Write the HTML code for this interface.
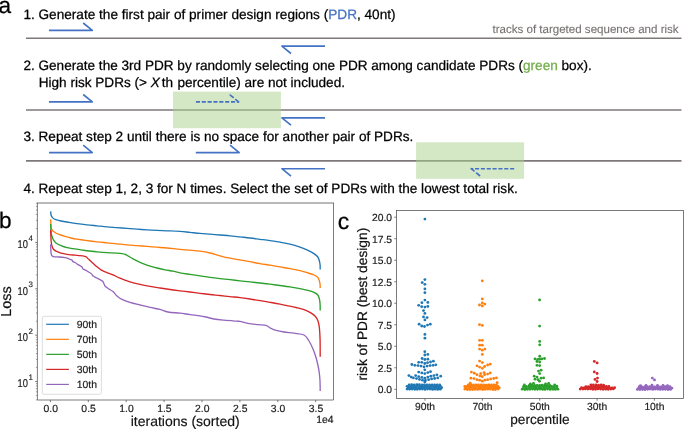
<!DOCTYPE html>
<html><head><meta charset="utf-8"><title>figure</title>
<style>
html,body{margin:0;padding:0;background:#fff;}
body{width:685px;height:429px;overflow:hidden;font-family:"Liberation Sans",sans-serif;}
svg{display:block;font-family:"Liberation Sans",sans-serif;will-change:transform;text-rendering:geometricPrecision;}
text{white-space:pre;stroke-linejoin:round;}
</style></head>
<body>
<svg width="685" height="429" viewBox="0 0 685 429">
<line x1="26" y1="38.25" x2="681.5" y2="38.25" stroke="#7e7878" stroke-width="1.6"/>
<line x1="26" y1="109.95" x2="681.5" y2="109.95" stroke="#7e7878" stroke-width="1.6"/>
<line x1="26" y1="160.85" x2="681.5" y2="160.85" stroke="#7e7878" stroke-width="1.6"/>
<rect x="173" y="91.6" width="107.9" height="36.6" fill="rgba(169,209,142,0.5)"/>
<rect x="416.1" y="142.3" width="108" height="36.5" fill="rgba(169,209,142,0.5)"/>
<path d="M49 30.4 L92.3 30.4 L83.20 23.00" fill="none" stroke="#4472C4" stroke-width="1.65" stroke-linejoin="round"/>
<path d="M325 46.1 L281.9 46.1 L291.00 53.50" fill="none" stroke="#4472C4" stroke-width="1.65" stroke-linejoin="round"/>
<path d="M49 101.9 L92.3 101.9 L83.20 94.50" fill="none" stroke="#4472C4" stroke-width="1.65" stroke-linejoin="round"/>
<path d="M195.9 101.9 L238.6 101.9" fill="none" stroke="#4472C4" stroke-width="1.65" stroke-dasharray="4.1 1.75"/>
<path d="M238.6 101.9 L229.50 94.50" fill="none" stroke="#4472C4" stroke-width="1.65" stroke-linecap="round" stroke-dasharray="3.6 3.4 3.8 10"/>
<path d="M325 117.8 L281.9 117.8 L291.00 125.20" fill="none" stroke="#4472C4" stroke-width="1.65" stroke-linejoin="round"/>
<path d="M49 152.6 L92.3 152.6 L83.20 145.20" fill="none" stroke="#4472C4" stroke-width="1.65" stroke-linejoin="round"/>
<path d="M195.8 152.6 L239.2 152.6 L230.10 145.20" fill="none" stroke="#4472C4" stroke-width="1.65" stroke-linejoin="round"/>
<path d="M325 168.7 L281.9 168.7 L291.00 176.10" fill="none" stroke="#4472C4" stroke-width="1.65" stroke-linejoin="round"/>
<path d="M514.2 168.7 L471.2 168.7" fill="none" stroke="#4472C4" stroke-width="1.65" stroke-dasharray="4.1 1.75"/>
<path d="M471.2 168.7 L480.30 176.10" fill="none" stroke="#4472C4" stroke-width="1.65" stroke-linecap="round" stroke-dasharray="3.6 3.4 3.8 10"/>
<text x="23.4" y="18.9" font-size="13.61" fill="#000" stroke="#000" stroke-width="0.25" text-anchor="start" >1. Generate the first pair of primer design regions (<tspan fill="#4472C4" stroke="#4472C4">PDR</tspan>, 40nt)</text>
<text x="678.6" y="32.9" font-size="11.55" fill="#787272" stroke="#787272" stroke-width="0.12" text-anchor="end" >tracks of targeted sequence and risk</text>
<text x="23.4" y="70.3" font-size="13.59" fill="#000" stroke="#000" stroke-width="0.25" text-anchor="start" >2. Generate the 3rd PDR by randomly selecting one PDR among candidate PDRs (<tspan fill="#70AD47" stroke="#70AD47">green</tspan> box).</text>
<text x="38.7" y="86.75" font-size="13.58" fill="#000" stroke="#000" stroke-width="0.25" text-anchor="start" >High risk PDRs (&gt; <tspan font-style="italic">X</tspan><tspan dx="-1.9"> </tspan>th<tspan dx="0.6"> </tspan>percentile) are not included.</text>
<text x="23.4" y="141.1" font-size="13.6" fill="#000" stroke="#000" stroke-width="0.25" text-anchor="start" >3. Repeat step 2 until there is no space for another pair of PDRs.</text>
<text x="23.4" y="192.8" font-size="13.58" fill="#000" stroke="#000" stroke-width="0.25" text-anchor="start" >4. Repeat step 1, 2, 3 for N times. Select the set of PDRs with the lowest total risk.</text>
<text x="-1.4" y="12.5" font-size="22.6" fill="#000" stroke="#000" stroke-width="0.25" text-anchor="start" >a</text>
<text x="-0.9" y="228.3" font-size="22.6" fill="#000" stroke="#000" stroke-width="0.25" text-anchor="start" >b</text>
<text x="337.7" y="228.9" font-size="22.9" fill="#000" stroke="#000" stroke-width="0.25" text-anchor="start" >c</text>
<clipPath id="cb"><rect x="37.4" y="203.2" width="296.1" height="196.8"/></clipPath>
<g clip-path="url(#cb)">
<path d="M50.65 211.40 C50.72 212.00 50.76 213.97 51.05 215.00 C51.34 216.03 51.73 216.87 52.40 217.60 C53.07 218.33 53.67 218.83 55.10 219.40 C56.53 219.97 58.68 220.50 61.00 221.00 C63.32 221.50 66.33 221.97 69.00 222.40 C71.67 222.83 74.00 223.20 77.00 223.60 C80.00 224.00 83.67 224.43 87.00 224.80 C90.33 225.17 93.67 225.47 97.00 225.80 C100.33 226.13 103.67 226.50 107.00 226.80 C110.33 227.10 113.67 227.33 117.00 227.60 C120.33 227.87 123.67 228.13 127.00 228.40 C130.33 228.67 133.67 228.97 137.00 229.20 C140.33 229.43 143.67 229.60 147.00 229.80 C150.33 230.00 153.67 230.23 157.00 230.40 C160.33 230.57 163.17 230.63 167.00 230.80 C170.83 230.97 176.17 231.13 180.00 231.40 C183.83 231.67 186.67 232.07 190.00 232.40 C193.33 232.73 196.67 233.10 200.00 233.40 C203.33 233.70 206.67 233.93 210.00 234.20 C213.33 234.47 216.67 234.73 220.00 235.00 C223.33 235.27 226.67 235.48 230.00 235.80 C233.33 236.12 236.67 236.53 240.00 236.90 C243.33 237.27 246.67 237.60 250.00 238.00 C253.33 238.40 256.67 238.87 260.00 239.30 C263.33 239.73 266.67 240.12 270.00 240.60 C273.33 241.08 276.67 241.60 280.00 242.20 C283.33 242.80 286.67 243.37 290.00 244.20 C293.33 245.03 297.00 246.17 300.00 247.20 C303.00 248.23 305.67 249.33 308.00 250.40 C310.33 251.47 312.37 252.50 314.00 253.60 C315.63 254.70 316.90 255.77 317.80 257.00 C318.70 258.23 319.02 259.67 319.40 261.00 C319.78 262.33 319.97 263.58 320.10 265.00 C320.20 266.42 320.18 268.75 320.20 269.50" fill="none" stroke="#1f77b4" stroke-width="1.35" stroke-linejoin="round" stroke-linecap="butt"/>
<path d="M50.65 219.40 C50.72 220.67 50.85 225.30 51.05 227.00 C51.25 228.70 51.33 228.77 51.85 229.60 C52.38 230.43 53.01 231.20 54.20 232.00 C55.39 232.80 57.20 233.67 59.00 234.40 C60.80 235.13 63.00 235.80 65.00 236.40 C67.00 237.00 69.00 237.53 71.00 238.00 C73.00 238.47 74.33 238.77 77.00 239.20 C79.67 239.63 83.67 240.17 87.00 240.60 C90.33 241.03 93.67 241.43 97.00 241.80 C100.33 242.17 103.67 242.47 107.00 242.80 C110.33 243.13 113.67 243.47 117.00 243.80 C120.33 244.13 123.67 244.50 127.00 244.80 C130.33 245.10 133.67 245.33 137.00 245.60 C140.33 245.87 143.67 246.13 147.00 246.40 C150.33 246.67 153.67 246.93 157.00 247.20 C160.33 247.47 163.17 247.63 167.00 248.00 C170.83 248.37 176.17 249.03 180.00 249.40 C183.83 249.77 186.67 249.90 190.00 250.20 C193.33 250.50 196.67 250.73 200.00 251.20 C203.33 251.67 206.67 252.23 210.00 253.00 C213.33 253.77 216.67 254.93 220.00 255.80 C223.33 256.67 226.67 257.52 230.00 258.20 C233.33 258.88 236.67 259.32 240.00 259.90 C243.33 260.48 246.67 261.08 250.00 261.70 C253.33 262.32 256.67 263.02 260.00 263.60 C263.33 264.18 266.67 264.65 270.00 265.20 C273.33 265.75 276.67 266.33 280.00 266.90 C283.33 267.47 286.67 267.98 290.00 268.60 C293.33 269.22 297.00 269.87 300.00 270.60 C303.00 271.33 305.67 272.27 308.00 273.00 C310.33 273.73 312.37 274.27 314.00 275.00 C315.63 275.73 316.90 276.40 317.80 277.40 C318.70 278.40 319.02 279.82 319.40 281.00 C319.78 282.18 319.97 283.33 320.10 284.50 C320.20 285.67 320.18 287.42 320.20 288.00" fill="none" stroke="#ff7f0e" stroke-width="1.35" stroke-linejoin="round" stroke-linecap="butt"/>
<path d="M50.65 224.00 C50.72 225.33 50.85 230.00 51.05 232.00 C51.25 234.00 51.48 234.73 51.85 236.00 C52.23 237.27 52.61 238.43 53.30 239.60 C53.99 240.77 54.72 242.00 56.00 243.00 C57.28 244.00 59.17 244.83 61.00 245.60 C62.83 246.37 65.00 247.10 67.00 247.60 C69.00 248.10 70.67 248.23 73.00 248.60 C75.33 248.97 78.33 249.40 81.00 249.80 C83.67 250.20 86.33 250.67 89.00 251.00 C91.67 251.33 94.00 251.53 97.00 251.80 C100.00 252.07 103.67 252.37 107.00 252.60 C110.33 252.83 114.50 253.02 117.00 253.20 C119.50 253.38 120.58 253.48 122.00 253.70 C123.42 253.92 124.42 254.08 125.50 254.50 C126.58 254.92 127.25 255.48 128.50 256.20 C129.75 256.92 131.25 257.87 133.00 258.80 C134.75 259.73 137.00 260.87 139.00 261.80 C141.00 262.73 143.00 263.63 145.00 264.40 C147.00 265.17 149.00 265.80 151.00 266.40 C153.00 267.00 154.67 267.43 157.00 268.00 C159.33 268.57 162.33 269.27 165.00 269.80 C167.67 270.33 170.50 270.70 173.00 271.20 C175.50 271.70 177.17 272.27 180.00 272.80 C182.83 273.33 186.67 273.88 190.00 274.40 C193.33 274.92 196.67 275.40 200.00 275.90 C203.33 276.40 206.67 276.95 210.00 277.40 C213.33 277.85 216.67 278.23 220.00 278.60 C223.33 278.97 226.67 279.23 230.00 279.60 C233.33 279.97 236.67 280.42 240.00 280.80 C243.33 281.18 246.67 281.53 250.00 281.90 C253.33 282.27 256.67 282.62 260.00 283.00 C263.33 283.38 266.67 283.78 270.00 284.20 C273.33 284.62 276.67 285.05 280.00 285.50 C283.33 285.95 286.67 286.38 290.00 286.90 C293.33 287.42 297.00 288.02 300.00 288.60 C303.00 289.18 305.67 289.77 308.00 290.40 C310.33 291.03 312.37 291.63 314.00 292.40 C315.63 293.17 316.90 293.90 317.80 295.00 C318.70 296.10 319.02 297.50 319.40 299.00 C319.78 300.50 319.97 302.10 320.10 304.00 C320.20 305.90 320.18 309.33 320.20 310.40" fill="none" stroke="#2ca02c" stroke-width="1.35" stroke-linejoin="round" stroke-linecap="butt"/>
<path d="M50.65 230.00 C50.72 231.67 50.85 237.40 51.05 240.00 C51.25 242.60 51.48 244.10 51.85 245.60 C52.23 247.10 52.61 248.07 53.30 249.00 C53.99 249.93 54.72 250.50 56.00 251.20 C57.28 251.90 59.17 252.67 61.00 253.20 C62.83 253.73 65.00 254.10 67.00 254.40 C69.00 254.70 71.00 254.80 73.00 255.00 C75.00 255.20 77.17 255.40 79.00 255.60 C80.83 255.80 82.83 256.00 84.00 256.20 C85.17 256.40 85.17 256.23 86.00 256.80 C86.83 257.37 87.83 258.53 89.00 259.60 C90.17 260.67 91.67 262.00 93.00 263.20 C94.33 264.40 95.67 265.70 97.00 266.80 C98.33 267.90 99.33 268.83 101.00 269.80 C102.67 270.77 105.00 271.77 107.00 272.60 C109.00 273.43 110.83 273.87 113.00 274.80 C115.17 275.73 117.17 277.03 120.00 278.20 C122.83 279.37 126.67 280.77 130.00 281.80 C133.33 282.83 136.67 283.63 140.00 284.40 C143.33 285.17 146.67 285.80 150.00 286.40 C153.33 287.00 156.67 287.48 160.00 288.00 C163.33 288.52 166.67 289.03 170.00 289.50 C173.33 289.97 176.67 290.38 180.00 290.80 C183.33 291.22 186.67 291.58 190.00 292.00 C193.33 292.42 196.67 292.88 200.00 293.30 C203.33 293.72 206.67 294.13 210.00 294.50 C213.33 294.87 216.67 295.15 220.00 295.50 C223.33 295.85 226.67 296.25 230.00 296.60 C233.33 296.95 236.67 297.20 240.00 297.60 C243.33 298.00 246.67 298.50 250.00 299.00 C253.33 299.50 256.67 300.05 260.00 300.60 C263.33 301.15 266.67 301.72 270.00 302.30 C273.33 302.88 276.67 303.45 280.00 304.10 C283.33 304.75 287.33 305.63 290.00 306.20 C292.67 306.77 293.67 306.93 296.00 307.50 C298.33 308.07 301.67 308.78 304.00 309.60 C306.33 310.42 308.17 311.33 310.00 312.40 C311.83 313.47 313.67 314.57 315.00 316.00 C316.33 317.43 317.27 319.00 318.00 321.00 C318.73 323.00 319.05 324.83 319.40 328.00 C319.75 331.17 319.97 335.22 320.10 340.00 C320.20 344.78 320.18 353.92 320.20 356.70" fill="none" stroke="#d62728" stroke-width="1.35" stroke-linejoin="round" stroke-linecap="butt"/>
<path d="M50.65 244.40 C50.72 245.83 50.85 251.13 51.05 253.00 C51.25 254.87 51.33 254.97 51.85 255.60 C52.38 256.23 53.01 256.57 54.20 256.80 C55.39 257.03 57.20 256.87 59.00 257.00 C60.80 257.13 63.50 257.37 65.00 257.60 C66.50 257.83 67.17 258.10 68.00 258.40 C68.83 258.70 69.33 259.13 70.00 259.40 C70.67 259.67 71.50 259.63 72.00 260.00 C72.50 260.37 72.33 261.10 73.00 261.60 C73.67 262.10 75.17 262.50 76.00 263.00 C76.83 263.50 77.33 264.17 78.00 264.60 C78.67 265.03 79.33 265.20 80.00 265.60 C80.67 266.00 81.50 266.43 82.00 267.00 C82.50 267.57 82.33 268.43 83.00 269.00 C83.67 269.57 85.17 269.97 86.00 270.40 C86.83 270.83 87.33 271.20 88.00 271.60 C88.67 272.00 89.33 272.33 90.00 272.80 C90.67 273.27 91.50 273.87 92.00 274.40 C92.50 274.93 92.17 275.40 93.00 276.00 C93.83 276.60 95.83 277.40 97.00 278.00 C98.17 278.60 99.00 279.00 100.00 279.60 C101.00 280.20 102.17 280.53 103.00 281.60 C103.83 282.67 104.00 284.77 105.00 286.00 C106.00 287.23 107.67 288.07 109.00 289.00 C110.33 289.93 111.67 290.43 113.00 291.60 C114.33 292.77 115.50 294.70 117.00 296.00 C118.50 297.30 119.83 298.33 122.00 299.40 C124.17 300.47 127.00 301.47 130.00 302.40 C133.00 303.33 136.67 304.17 140.00 305.00 C143.33 305.83 146.67 306.67 150.00 307.40 C153.33 308.13 157.00 308.63 160.00 309.40 C163.00 310.17 164.67 311.37 168.00 312.00 C171.33 312.63 176.33 312.77 180.00 313.20 C183.67 313.63 186.67 314.17 190.00 314.60 C193.33 315.03 197.33 315.40 200.00 315.80 C202.67 316.20 203.67 316.47 206.00 317.00 C208.33 317.53 211.00 318.47 214.00 319.00 C217.00 319.53 220.23 319.83 224.00 320.20 C227.77 320.57 233.93 321.00 236.60 321.20 C239.27 321.40 238.10 321.03 240.00 321.40 C241.90 321.77 245.00 322.87 248.00 323.40 C251.00 323.93 255.00 324.27 258.00 324.60 C261.00 324.93 263.83 324.77 266.00 325.40 C268.17 326.03 269.33 327.57 271.00 328.40 C272.67 329.23 273.83 329.80 276.00 330.40 C278.17 331.00 281.00 331.53 284.00 332.00 C287.00 332.47 290.67 332.70 294.00 333.20 C297.33 333.70 301.50 333.70 304.00 335.00 C306.50 336.30 307.50 338.67 309.00 341.00 C310.50 343.33 311.83 346.25 313.00 349.00 C314.17 351.75 315.17 354.75 316.00 357.50 C316.83 360.25 317.45 362.92 318.00 365.50 C318.55 368.08 318.97 370.42 319.30 373.00 C319.63 375.58 319.85 377.98 320.00 381.00 C320.15 384.02 320.17 389.42 320.20 391.10" fill="none" stroke="#9467bd" stroke-width="1.35" stroke-linejoin="round" stroke-linecap="butt"/>
</g>
<path d="M37.4 203.0 L37.4 400.0 L333.5 400.0 L333.5 203.0" fill="none" stroke="#5a5a5a" stroke-width="0.8"/>
<line x1="37.0" y1="203.0" x2="333.9" y2="203.0" stroke="#5a5a5a" stroke-width="0.85"/>
<line x1="50.40" y1="400.0" x2="50.40" y2="402.2" stroke="#5a5a5a" stroke-width="0.8"/>
<text x="50.70" y="411.8" font-size="10.4" fill="#1a1a1a" stroke="#1a1a1a" stroke-width="0.18" text-anchor="middle" >0.0</text>
<line x1="88.30" y1="400.0" x2="88.30" y2="402.2" stroke="#5a5a5a" stroke-width="0.8"/>
<text x="88.60" y="411.8" font-size="10.4" fill="#1a1a1a" stroke="#1a1a1a" stroke-width="0.18" text-anchor="middle" >0.5</text>
<line x1="126.20" y1="400.0" x2="126.20" y2="402.2" stroke="#5a5a5a" stroke-width="0.8"/>
<text x="126.50" y="411.8" font-size="10.4" fill="#1a1a1a" stroke="#1a1a1a" stroke-width="0.18" text-anchor="middle" >1.0</text>
<line x1="164.10" y1="400.0" x2="164.10" y2="402.2" stroke="#5a5a5a" stroke-width="0.8"/>
<text x="164.40" y="411.8" font-size="10.4" fill="#1a1a1a" stroke="#1a1a1a" stroke-width="0.18" text-anchor="middle" >1.5</text>
<line x1="202.00" y1="400.0" x2="202.00" y2="402.2" stroke="#5a5a5a" stroke-width="0.8"/>
<text x="202.30" y="411.8" font-size="10.4" fill="#1a1a1a" stroke="#1a1a1a" stroke-width="0.18" text-anchor="middle" >2.0</text>
<line x1="239.90" y1="400.0" x2="239.90" y2="402.2" stroke="#5a5a5a" stroke-width="0.8"/>
<text x="240.20" y="411.8" font-size="10.4" fill="#1a1a1a" stroke="#1a1a1a" stroke-width="0.18" text-anchor="middle" >2.5</text>
<line x1="277.80" y1="400.0" x2="277.80" y2="402.2" stroke="#5a5a5a" stroke-width="0.8"/>
<text x="278.10" y="411.8" font-size="10.4" fill="#1a1a1a" stroke="#1a1a1a" stroke-width="0.18" text-anchor="middle" >3.0</text>
<line x1="315.70" y1="400.0" x2="315.70" y2="402.2" stroke="#5a5a5a" stroke-width="0.8"/>
<text x="316.00" y="411.8" font-size="10.4" fill="#1a1a1a" stroke="#1a1a1a" stroke-width="0.18" text-anchor="middle" >3.5</text>
<text x="316.3" y="423.0" font-size="10.4" fill="#1a1a1a" stroke="#1a1a1a" stroke-width="0.18" text-anchor="start" >1e4</text>
<line x1="35.199999999999996" y1="381.50" x2="37.4" y2="381.50" stroke="#5a5a5a" stroke-width="0.8"/>
<text transform="translate(17.6 387.35) scale(0.82 1)" font-size="11.4" fill="#1a1a1a" stroke="#1a1a1a" stroke-width="0.18">10</text>
<text x="28.5" y="379.85" font-size="7.9" fill="#1a1a1a" stroke="#1a1a1a" stroke-width="0.15" text-anchor="start" >1</text>
<line x1="35.199999999999996" y1="335.15" x2="37.4" y2="335.15" stroke="#5a5a5a" stroke-width="0.8"/>
<text transform="translate(17.6 341.00) scale(0.82 1)" font-size="11.4" fill="#1a1a1a" stroke="#1a1a1a" stroke-width="0.18">10</text>
<text x="28.5" y="333.50" font-size="7.9" fill="#1a1a1a" stroke="#1a1a1a" stroke-width="0.15" text-anchor="start" >2</text>
<line x1="35.199999999999996" y1="288.80" x2="37.4" y2="288.80" stroke="#5a5a5a" stroke-width="0.8"/>
<text transform="translate(17.6 294.65) scale(0.82 1)" font-size="11.4" fill="#1a1a1a" stroke="#1a1a1a" stroke-width="0.18">10</text>
<text x="28.5" y="287.15" font-size="7.9" fill="#1a1a1a" stroke="#1a1a1a" stroke-width="0.15" text-anchor="start" >3</text>
<line x1="35.199999999999996" y1="242.45" x2="37.4" y2="242.45" stroke="#5a5a5a" stroke-width="0.8"/>
<text transform="translate(17.6 248.30) scale(0.82 1)" font-size="11.4" fill="#1a1a1a" stroke="#1a1a1a" stroke-width="0.18">10</text>
<text x="28.5" y="240.80" font-size="7.9" fill="#1a1a1a" stroke="#1a1a1a" stroke-width="0.15" text-anchor="start" >4</text>
<line x1="35.9" y1="399.94" x2="37.4" y2="399.94" stroke="#5a5a5a" stroke-width="0.55"/>
<line x1="35.9" y1="395.45" x2="37.4" y2="395.45" stroke="#5a5a5a" stroke-width="0.55"/>
<line x1="35.9" y1="391.78" x2="37.4" y2="391.78" stroke="#5a5a5a" stroke-width="0.55"/>
<line x1="35.9" y1="388.68" x2="37.4" y2="388.68" stroke="#5a5a5a" stroke-width="0.55"/>
<line x1="35.9" y1="385.99" x2="37.4" y2="385.99" stroke="#5a5a5a" stroke-width="0.55"/>
<line x1="35.9" y1="383.62" x2="37.4" y2="383.62" stroke="#5a5a5a" stroke-width="0.55"/>
<line x1="35.9" y1="367.55" x2="37.4" y2="367.55" stroke="#5a5a5a" stroke-width="0.55"/>
<line x1="35.9" y1="359.39" x2="37.4" y2="359.39" stroke="#5a5a5a" stroke-width="0.55"/>
<line x1="35.9" y1="353.59" x2="37.4" y2="353.59" stroke="#5a5a5a" stroke-width="0.55"/>
<line x1="35.9" y1="349.10" x2="37.4" y2="349.10" stroke="#5a5a5a" stroke-width="0.55"/>
<line x1="35.9" y1="345.43" x2="37.4" y2="345.43" stroke="#5a5a5a" stroke-width="0.55"/>
<line x1="35.9" y1="342.33" x2="37.4" y2="342.33" stroke="#5a5a5a" stroke-width="0.55"/>
<line x1="35.9" y1="339.64" x2="37.4" y2="339.64" stroke="#5a5a5a" stroke-width="0.55"/>
<line x1="35.9" y1="337.27" x2="37.4" y2="337.27" stroke="#5a5a5a" stroke-width="0.55"/>
<line x1="35.9" y1="321.20" x2="37.4" y2="321.20" stroke="#5a5a5a" stroke-width="0.55"/>
<line x1="35.9" y1="313.04" x2="37.4" y2="313.04" stroke="#5a5a5a" stroke-width="0.55"/>
<line x1="35.9" y1="307.24" x2="37.4" y2="307.24" stroke="#5a5a5a" stroke-width="0.55"/>
<line x1="35.9" y1="302.75" x2="37.4" y2="302.75" stroke="#5a5a5a" stroke-width="0.55"/>
<line x1="35.9" y1="299.08" x2="37.4" y2="299.08" stroke="#5a5a5a" stroke-width="0.55"/>
<line x1="35.9" y1="295.98" x2="37.4" y2="295.98" stroke="#5a5a5a" stroke-width="0.55"/>
<line x1="35.9" y1="293.29" x2="37.4" y2="293.29" stroke="#5a5a5a" stroke-width="0.55"/>
<line x1="35.9" y1="290.92" x2="37.4" y2="290.92" stroke="#5a5a5a" stroke-width="0.55"/>
<line x1="35.9" y1="274.85" x2="37.4" y2="274.85" stroke="#5a5a5a" stroke-width="0.55"/>
<line x1="35.9" y1="266.69" x2="37.4" y2="266.69" stroke="#5a5a5a" stroke-width="0.55"/>
<line x1="35.9" y1="260.89" x2="37.4" y2="260.89" stroke="#5a5a5a" stroke-width="0.55"/>
<line x1="35.9" y1="256.40" x2="37.4" y2="256.40" stroke="#5a5a5a" stroke-width="0.55"/>
<line x1="35.9" y1="252.73" x2="37.4" y2="252.73" stroke="#5a5a5a" stroke-width="0.55"/>
<line x1="35.9" y1="249.63" x2="37.4" y2="249.63" stroke="#5a5a5a" stroke-width="0.55"/>
<line x1="35.9" y1="246.94" x2="37.4" y2="246.94" stroke="#5a5a5a" stroke-width="0.55"/>
<line x1="35.9" y1="244.57" x2="37.4" y2="244.57" stroke="#5a5a5a" stroke-width="0.55"/>
<line x1="35.9" y1="228.50" x2="37.4" y2="228.50" stroke="#5a5a5a" stroke-width="0.55"/>
<line x1="35.9" y1="220.34" x2="37.4" y2="220.34" stroke="#5a5a5a" stroke-width="0.55"/>
<line x1="35.9" y1="214.54" x2="37.4" y2="214.54" stroke="#5a5a5a" stroke-width="0.55"/>
<line x1="35.9" y1="210.05" x2="37.4" y2="210.05" stroke="#5a5a5a" stroke-width="0.55"/>
<line x1="35.9" y1="206.38" x2="37.4" y2="206.38" stroke="#5a5a5a" stroke-width="0.55"/>
<line x1="35.9" y1="203.28" x2="37.4" y2="203.28" stroke="#5a5a5a" stroke-width="0.55"/>
<text x="185.2" y="425.6" font-size="14" fill="#111" stroke="#111" stroke-width="0.15" text-anchor="middle" >iterations (sorted)</text>
<text transform="translate(11.3 301.6) rotate(-90)" font-size="14.4" text-anchor="middle" fill="#111" stroke="#111" stroke-width="0.2">Loss</text>
<rect x="42.3" y="316.3" width="59.1" height="78" rx="1.8" fill="#fff" fill-opacity="0.8" stroke="#d4d4d4" stroke-width="0.8"/>
<line x1="46.2" y1="324.30" x2="68.9" y2="324.30" stroke="#1f77b4" stroke-width="1.2"/>
<text x="76.8" y="327.90" font-size="10.4" fill="#1a1a1a" stroke="#1a1a1a" stroke-width="0.18" text-anchor="start" >90th</text>
<line x1="46.2" y1="339.33" x2="68.9" y2="339.33" stroke="#ff7f0e" stroke-width="1.2"/>
<text x="76.8" y="342.93" font-size="10.4" fill="#1a1a1a" stroke="#1a1a1a" stroke-width="0.18" text-anchor="start" >70th</text>
<line x1="46.2" y1="354.36" x2="68.9" y2="354.36" stroke="#2ca02c" stroke-width="1.2"/>
<text x="76.8" y="357.96" font-size="10.4" fill="#1a1a1a" stroke="#1a1a1a" stroke-width="0.18" text-anchor="start" >50th</text>
<line x1="46.2" y1="369.39" x2="68.9" y2="369.39" stroke="#d62728" stroke-width="1.2"/>
<text x="76.8" y="372.99" font-size="10.4" fill="#1a1a1a" stroke="#1a1a1a" stroke-width="0.18" text-anchor="start" >30th</text>
<line x1="46.2" y1="384.42" x2="68.9" y2="384.42" stroke="#9467bd" stroke-width="1.2"/>
<text x="76.8" y="388.02" font-size="10.4" fill="#1a1a1a" stroke="#1a1a1a" stroke-width="0.18" text-anchor="start" >10th</text>
<rect x="396.5" y="210.5" width="287.0" height="188.0" fill="none" stroke="#5a5a5a" stroke-width="0.8"/>
<line x1="394.3" y1="389.30" x2="396.5" y2="389.30" stroke="#5a5a5a" stroke-width="0.8"/>
<text x="392.0" y="393.25" font-size="10.3" fill="#1a1a1a" stroke="#1a1a1a" stroke-width="0.18" text-anchor="end" >0.0</text>
<line x1="394.3" y1="367.79" x2="396.5" y2="367.79" stroke="#5a5a5a" stroke-width="0.8"/>
<text x="392.0" y="371.74" font-size="10.3" fill="#1a1a1a" stroke="#1a1a1a" stroke-width="0.18" text-anchor="end" >2.5</text>
<line x1="394.3" y1="346.27" x2="396.5" y2="346.27" stroke="#5a5a5a" stroke-width="0.8"/>
<text x="392.0" y="350.22" font-size="10.3" fill="#1a1a1a" stroke="#1a1a1a" stroke-width="0.18" text-anchor="end" >5.0</text>
<line x1="394.3" y1="324.76" x2="396.5" y2="324.76" stroke="#5a5a5a" stroke-width="0.8"/>
<text x="392.0" y="328.71" font-size="10.3" fill="#1a1a1a" stroke="#1a1a1a" stroke-width="0.18" text-anchor="end" >7.5</text>
<line x1="394.3" y1="303.25" x2="396.5" y2="303.25" stroke="#5a5a5a" stroke-width="0.8"/>
<text x="392.0" y="307.20" font-size="10.3" fill="#1a1a1a" stroke="#1a1a1a" stroke-width="0.18" text-anchor="end" >10.0</text>
<line x1="394.3" y1="281.74" x2="396.5" y2="281.74" stroke="#5a5a5a" stroke-width="0.8"/>
<text x="392.0" y="285.69" font-size="10.3" fill="#1a1a1a" stroke="#1a1a1a" stroke-width="0.18" text-anchor="end" >12.5</text>
<line x1="394.3" y1="260.23" x2="396.5" y2="260.23" stroke="#5a5a5a" stroke-width="0.8"/>
<text x="392.0" y="264.18" font-size="10.3" fill="#1a1a1a" stroke="#1a1a1a" stroke-width="0.18" text-anchor="end" >15.0</text>
<line x1="394.3" y1="238.71" x2="396.5" y2="238.71" stroke="#5a5a5a" stroke-width="0.8"/>
<text x="392.0" y="242.66" font-size="10.3" fill="#1a1a1a" stroke="#1a1a1a" stroke-width="0.18" text-anchor="end" >17.5</text>
<line x1="394.3" y1="217.20" x2="396.5" y2="217.20" stroke="#5a5a5a" stroke-width="0.8"/>
<text x="392.0" y="221.15" font-size="10.3" fill="#1a1a1a" stroke="#1a1a1a" stroke-width="0.18" text-anchor="end" >20.0</text>
<line x1="425.0" y1="398.5" x2="425.0" y2="400.7" stroke="#5a5a5a" stroke-width="0.8"/>
<text x="425.0" y="409.8" font-size="10.3" fill="#1a1a1a" stroke="#1a1a1a" stroke-width="0.18" text-anchor="middle" >90th</text>
<line x1="482.4" y1="398.5" x2="482.4" y2="400.7" stroke="#5a5a5a" stroke-width="0.8"/>
<text x="482.4" y="409.8" font-size="10.3" fill="#1a1a1a" stroke="#1a1a1a" stroke-width="0.18" text-anchor="middle" >70th</text>
<line x1="539.7" y1="398.5" x2="539.7" y2="400.7" stroke="#5a5a5a" stroke-width="0.8"/>
<text x="539.7" y="409.8" font-size="10.3" fill="#1a1a1a" stroke="#1a1a1a" stroke-width="0.18" text-anchor="middle" >50th</text>
<line x1="597.1" y1="398.5" x2="597.1" y2="400.7" stroke="#5a5a5a" stroke-width="0.8"/>
<text x="597.1" y="409.8" font-size="10.3" fill="#1a1a1a" stroke="#1a1a1a" stroke-width="0.18" text-anchor="middle" >30th</text>
<line x1="654.4" y1="398.5" x2="654.4" y2="400.7" stroke="#5a5a5a" stroke-width="0.8"/>
<text x="654.4" y="409.8" font-size="10.3" fill="#1a1a1a" stroke="#1a1a1a" stroke-width="0.18" text-anchor="middle" >10th</text>
<text x="539.9" y="423.5" font-size="13.7" fill="#111" stroke="#111" stroke-width="0.15" text-anchor="middle" >percentile</text>
<text transform="translate(366.8 304.2) rotate(-90)" font-size="13.75" text-anchor="middle" fill="#111" stroke="#111" stroke-width="0.2">risk of PDR (best design)</text>
<g fill="#1f77b4">
<circle cx="424.9" cy="219.1" r="1.42"/>
<circle cx="424.9" cy="279.6" r="1.42"/>
<circle cx="422.2" cy="282.6" r="1.42"/>
<circle cx="424.9" cy="284.3" r="1.42"/>
<circle cx="424.9" cy="288.9" r="1.42"/>
<circle cx="424.9" cy="292.7" r="1.42"/>
<circle cx="424.9" cy="300.1" r="1.42"/>
<circle cx="421.9" cy="302.7" r="1.42"/>
<circle cx="427.8" cy="302.4" r="1.42"/>
<circle cx="418.7" cy="305.3" r="1.42"/>
<circle cx="421.7" cy="306.7" r="1.42"/>
<circle cx="424.9" cy="307.1" r="1.42"/>
<circle cx="427.8" cy="306.4" r="1.42"/>
<circle cx="423.5" cy="310.6" r="1.42"/>
<circle cx="424.9" cy="313.4" r="1.42"/>
<circle cx="423.5" cy="316.9" r="1.42"/>
<circle cx="427.1" cy="317.6" r="1.42"/>
<circle cx="424.9" cy="319.9" r="1.42"/>
<circle cx="419.1" cy="324.2" r="1.42"/>
<circle cx="421.7" cy="326.0" r="1.42"/>
<circle cx="424.5" cy="326.5" r="1.42"/>
<circle cx="427.5" cy="325.1" r="1.42"/>
<circle cx="430.3" cy="324.2" r="1.42"/>
<circle cx="424.9" cy="334.4" r="1.42"/>
<circle cx="424.9" cy="338.2" r="1.42"/>
<circle cx="424.8" cy="351.7" r="1.42"/>
<circle cx="424.8" cy="355.0" r="1.42"/>
<circle cx="427.8" cy="354.4" r="1.42"/>
<circle cx="422.1" cy="358.5" r="1.42"/>
<circle cx="424.8" cy="359.5" r="1.42"/>
<circle cx="427.8" cy="359.2" r="1.42"/>
<circle cx="418.7" cy="362.3" r="1.42"/>
<circle cx="421.8" cy="362.3" r="1.42"/>
<circle cx="424.8" cy="363.5" r="1.42"/>
<circle cx="427.5" cy="362.7" r="1.42"/>
<circle cx="430.5" cy="362.0" r="1.42"/>
<circle cx="433.4" cy="361.2" r="1.42"/>
<circle cx="411.9" cy="364.5" r="1.42"/>
<circle cx="414.9" cy="365.3" r="1.42"/>
<circle cx="418.0" cy="365.6" r="1.42"/>
<circle cx="421.0" cy="366.1" r="1.42"/>
<circle cx="424.0" cy="366.8" r="1.42"/>
<circle cx="427.1" cy="366.1" r="1.42"/>
<circle cx="430.1" cy="365.6" r="1.42"/>
<circle cx="433.1" cy="365.3" r="1.42"/>
<circle cx="435.8" cy="364.8" r="1.42"/>
<circle cx="424.8" cy="369.8" r="1.42"/>
<circle cx="418.7" cy="372.1" r="1.42"/>
<circle cx="421.8" cy="372.9" r="1.42"/>
<circle cx="424.8" cy="373.6" r="1.42"/>
<circle cx="427.8" cy="372.6" r="1.42"/>
<circle cx="430.5" cy="371.7" r="1.42"/>
<circle cx="408.9" cy="375.6" r="1.42"/>
<circle cx="411.2" cy="377.1" r="1.42"/>
<circle cx="413.4" cy="377.9" r="1.42"/>
<circle cx="415.7" cy="375.6" r="1.42"/>
<circle cx="416.5" cy="378.6" r="1.42"/>
<circle cx="418.7" cy="376.7" r="1.42"/>
<circle cx="419.5" cy="379.4" r="1.42"/>
<circle cx="421.8" cy="377.4" r="1.42"/>
<circle cx="422.5" cy="380.2" r="1.42"/>
<circle cx="424.8" cy="378.2" r="1.42"/>
<circle cx="425.5" cy="380.5" r="1.42"/>
<circle cx="427.8" cy="377.1" r="1.42"/>
<circle cx="428.6" cy="379.7" r="1.42"/>
<circle cx="430.8" cy="376.2" r="1.42"/>
<circle cx="431.6" cy="378.9" r="1.42"/>
<circle cx="433.9" cy="375.6" r="1.42"/>
<circle cx="434.6" cy="378.5" r="1.42"/>
<circle cx="436.9" cy="374.8" r="1.42"/>
<circle cx="437.7" cy="377.9" r="1.42"/>
<circle cx="440.7" cy="376.2" r="1.42"/>
<circle cx="424.8" cy="382.0" r="1.42"/>
<circle cx="407.1" cy="389.1" r="1.42"/>
<circle cx="409.6" cy="389.2" r="1.42"/>
<circle cx="412.2" cy="389.1" r="1.42"/>
<circle cx="414.8" cy="389.3" r="1.42"/>
<circle cx="417.3" cy="389.3" r="1.42"/>
<circle cx="419.9" cy="389.0" r="1.42"/>
<circle cx="422.4" cy="389.0" r="1.42"/>
<circle cx="425.0" cy="389.4" r="1.42"/>
<circle cx="427.5" cy="389.1" r="1.42"/>
<circle cx="430.1" cy="389.1" r="1.42"/>
<circle cx="432.6" cy="389.4" r="1.42"/>
<circle cx="435.2" cy="389.2" r="1.42"/>
<circle cx="437.7" cy="389.4" r="1.42"/>
<circle cx="440.3" cy="389.2" r="1.42"/>
<circle cx="408.4" cy="387.8" r="1.42"/>
<circle cx="410.9" cy="387.5" r="1.42"/>
<circle cx="413.5" cy="387.8" r="1.42"/>
<circle cx="416.1" cy="387.9" r="1.42"/>
<circle cx="418.6" cy="387.7" r="1.42"/>
<circle cx="421.2" cy="387.8" r="1.42"/>
<circle cx="423.7" cy="387.8" r="1.42"/>
<circle cx="426.3" cy="387.5" r="1.42"/>
<circle cx="428.8" cy="387.8" r="1.42"/>
<circle cx="431.4" cy="387.7" r="1.42"/>
<circle cx="433.9" cy="387.6" r="1.42"/>
<circle cx="436.5" cy="387.5" r="1.42"/>
<circle cx="439.0" cy="387.9" r="1.42"/>
<circle cx="441.6" cy="387.7" r="1.42"/>
<circle cx="407.1" cy="386.3" r="1.42"/>
<circle cx="409.6" cy="386.4" r="1.42"/>
<circle cx="412.2" cy="386.3" r="1.42"/>
<circle cx="414.8" cy="386.4" r="1.42"/>
<circle cx="417.3" cy="386.1" r="1.42"/>
<circle cx="419.9" cy="386.4" r="1.42"/>
<circle cx="422.4" cy="386.2" r="1.42"/>
<circle cx="425.0" cy="386.4" r="1.42"/>
<circle cx="427.5" cy="386.4" r="1.42"/>
<circle cx="430.1" cy="386.0" r="1.42"/>
<circle cx="432.6" cy="386.0" r="1.42"/>
<circle cx="435.2" cy="386.1" r="1.42"/>
<circle cx="437.7" cy="386.4" r="1.42"/>
<circle cx="440.3" cy="386.2" r="1.42"/>
<circle cx="409.1" cy="384.9" r="1.42"/>
<circle cx="411.6" cy="384.7" r="1.42"/>
<circle cx="414.2" cy="384.8" r="1.42"/>
<circle cx="416.8" cy="384.7" r="1.42"/>
<circle cx="419.3" cy="384.7" r="1.42"/>
<circle cx="421.9" cy="384.8" r="1.42"/>
<circle cx="424.4" cy="384.8" r="1.42"/>
<circle cx="427.0" cy="385.0" r="1.42"/>
<circle cx="429.5" cy="384.9" r="1.42"/>
<circle cx="432.1" cy="385.0" r="1.42"/>
<circle cx="434.6" cy="385.0" r="1.42"/>
<circle cx="437.2" cy="385.0" r="1.42"/>
<circle cx="439.7" cy="384.9" r="1.42"/>
</g>
<g fill="#ff7f0e">
<circle cx="482.3" cy="280.8" r="1.42"/>
<circle cx="482.3" cy="298.9" r="1.42"/>
<circle cx="482.3" cy="302.9" r="1.42"/>
<circle cx="479.5" cy="305.0" r="1.42"/>
<circle cx="484.9" cy="304.1" r="1.42"/>
<circle cx="482.3" cy="305.9" r="1.42"/>
<circle cx="479.5" cy="324.7" r="1.42"/>
<circle cx="482.3" cy="325.4" r="1.42"/>
<circle cx="479.6" cy="340.3" r="1.42"/>
<circle cx="482.3" cy="340.3" r="1.42"/>
<circle cx="479.6" cy="345.2" r="1.42"/>
<circle cx="482.3" cy="345.2" r="1.42"/>
<circle cx="479.6" cy="349.1" r="1.42"/>
<circle cx="482.3" cy="350.2" r="1.42"/>
<circle cx="484.9" cy="349.1" r="1.42"/>
<circle cx="482.3" cy="354.4" r="1.42"/>
<circle cx="479.6" cy="361.1" r="1.42"/>
<circle cx="482.3" cy="362.6" r="1.42"/>
<circle cx="477.0" cy="365.8" r="1.42"/>
<circle cx="479.6" cy="367.1" r="1.42"/>
<circle cx="482.3" cy="368.3" r="1.42"/>
<circle cx="484.6" cy="366.5" r="1.42"/>
<circle cx="487.6" cy="365.0" r="1.42"/>
<circle cx="490.2" cy="364.2" r="1.42"/>
<circle cx="471.4" cy="372.1" r="1.42"/>
<circle cx="474.3" cy="373.2" r="1.42"/>
<circle cx="477.0" cy="374.7" r="1.42"/>
<circle cx="480.0" cy="375.9" r="1.42"/>
<circle cx="482.3" cy="376.7" r="1.42"/>
<circle cx="484.6" cy="374.7" r="1.42"/>
<circle cx="487.6" cy="374.1" r="1.42"/>
<circle cx="490.2" cy="372.9" r="1.42"/>
<circle cx="480.8" cy="373.6" r="1.42"/>
<circle cx="484.1" cy="372.6" r="1.42"/>
<circle cx="470.9" cy="378.2" r="1.42"/>
<circle cx="474.0" cy="378.6" r="1.42"/>
<circle cx="477.0" cy="379.7" r="1.42"/>
<circle cx="479.6" cy="380.2" r="1.42"/>
<circle cx="482.3" cy="381.2" r="1.42"/>
<circle cx="484.9" cy="380.2" r="1.42"/>
<circle cx="487.6" cy="379.7" r="1.42"/>
<circle cx="490.6" cy="378.9" r="1.42"/>
<circle cx="493.7" cy="378.5" r="1.42"/>
<circle cx="496.4" cy="377.9" r="1.42"/>
<circle cx="470.2" cy="383.2" r="1.42"/>
<circle cx="497.2" cy="382.7" r="1.42"/>
<circle cx="464.8" cy="389.1" r="1.42"/>
<circle cx="467.4" cy="389.5" r="1.42"/>
<circle cx="469.9" cy="389.5" r="1.42"/>
<circle cx="472.5" cy="389.5" r="1.42"/>
<circle cx="475.0" cy="389.3" r="1.42"/>
<circle cx="477.6" cy="389.4" r="1.42"/>
<circle cx="480.1" cy="389.2" r="1.42"/>
<circle cx="482.7" cy="389.5" r="1.42"/>
<circle cx="485.2" cy="389.3" r="1.42"/>
<circle cx="487.8" cy="389.2" r="1.42"/>
<circle cx="490.3" cy="389.1" r="1.42"/>
<circle cx="492.9" cy="389.5" r="1.42"/>
<circle cx="495.4" cy="389.5" r="1.42"/>
<circle cx="498.0" cy="389.1" r="1.42"/>
<circle cx="466.1" cy="388.0" r="1.42"/>
<circle cx="468.7" cy="387.8" r="1.42"/>
<circle cx="471.2" cy="387.6" r="1.42"/>
<circle cx="473.8" cy="387.7" r="1.42"/>
<circle cx="476.3" cy="387.9" r="1.42"/>
<circle cx="478.9" cy="388.0" r="1.42"/>
<circle cx="481.4" cy="387.6" r="1.42"/>
<circle cx="484.0" cy="387.9" r="1.42"/>
<circle cx="486.5" cy="387.6" r="1.42"/>
<circle cx="489.1" cy="387.9" r="1.42"/>
<circle cx="491.6" cy="387.7" r="1.42"/>
<circle cx="494.2" cy="388.0" r="1.42"/>
<circle cx="496.7" cy="388.0" r="1.42"/>
<circle cx="499.3" cy="387.8" r="1.42"/>
<circle cx="464.8" cy="386.5" r="1.42"/>
<circle cx="467.4" cy="386.2" r="1.42"/>
<circle cx="469.9" cy="386.1" r="1.42"/>
<circle cx="472.5" cy="386.3" r="1.42"/>
<circle cx="475.0" cy="386.1" r="1.42"/>
<circle cx="477.6" cy="386.1" r="1.42"/>
<circle cx="480.1" cy="386.3" r="1.42"/>
<circle cx="482.7" cy="386.4" r="1.42"/>
<circle cx="485.2" cy="386.1" r="1.42"/>
<circle cx="487.8" cy="386.1" r="1.42"/>
<circle cx="490.3" cy="386.5" r="1.42"/>
<circle cx="492.9" cy="386.2" r="1.42"/>
<circle cx="495.4" cy="386.5" r="1.42"/>
<circle cx="498.0" cy="386.5" r="1.42"/>
<circle cx="468.3" cy="384.8" r="1.42"/>
<circle cx="470.9" cy="384.9" r="1.42"/>
<circle cx="473.4" cy="384.9" r="1.42"/>
<circle cx="476.0" cy="385.0" r="1.42"/>
<circle cx="478.5" cy="384.9" r="1.42"/>
<circle cx="481.1" cy="384.9" r="1.42"/>
<circle cx="483.6" cy="385.0" r="1.42"/>
<circle cx="486.2" cy="385.1" r="1.42"/>
<circle cx="488.7" cy="384.9" r="1.42"/>
<circle cx="491.3" cy="384.9" r="1.42"/>
<circle cx="493.8" cy="385.0" r="1.42"/>
<circle cx="496.4" cy="384.8" r="1.42"/>
</g>
<g fill="#2ca02c">
<circle cx="539.6" cy="299.9" r="1.42"/>
<circle cx="539.6" cy="326.1" r="1.42"/>
<circle cx="539.7" cy="341.4" r="1.42"/>
<circle cx="539.7" cy="344.8" r="1.42"/>
<circle cx="539.7" cy="356.2" r="1.42"/>
<circle cx="535.0" cy="358.9" r="1.42"/>
<circle cx="537.7" cy="359.5" r="1.42"/>
<circle cx="541.8" cy="358.9" r="1.42"/>
<circle cx="544.5" cy="358.5" r="1.42"/>
<circle cx="539.7" cy="359.0" r="1.42"/>
<circle cx="537.0" cy="361.5" r="1.42"/>
<circle cx="539.7" cy="362.0" r="1.42"/>
<circle cx="537.0" cy="365.3" r="1.42"/>
<circle cx="539.7" cy="365.6" r="1.42"/>
<circle cx="538.5" cy="371.1" r="1.42"/>
<circle cx="541.1" cy="370.2" r="1.42"/>
<circle cx="539.7" cy="373.6" r="1.42"/>
<circle cx="534.2" cy="376.2" r="1.42"/>
<circle cx="537.0" cy="377.1" r="1.42"/>
<circle cx="535.0" cy="379.2" r="1.42"/>
<circle cx="538.0" cy="379.7" r="1.42"/>
<circle cx="541.1" cy="378.2" r="1.42"/>
<circle cx="543.6" cy="377.9" r="1.42"/>
<circle cx="539.5" cy="381.2" r="1.42"/>
<circle cx="524.4" cy="385.0" r="1.42"/>
<circle cx="530.4" cy="383.9" r="1.42"/>
<circle cx="533.5" cy="383.3" r="1.42"/>
<circle cx="548.6" cy="383.3" r="1.42"/>
<circle cx="545.6" cy="383.9" r="1.42"/>
<circle cx="554.7" cy="385.0" r="1.42"/>
<circle cx="522.2" cy="389.2" r="1.42"/>
<circle cx="524.8" cy="389.5" r="1.42"/>
<circle cx="527.3" cy="389.3" r="1.42"/>
<circle cx="529.8" cy="389.3" r="1.42"/>
<circle cx="532.4" cy="389.1" r="1.42"/>
<circle cx="534.9" cy="389.3" r="1.42"/>
<circle cx="537.5" cy="389.3" r="1.42"/>
<circle cx="540.0" cy="389.1" r="1.42"/>
<circle cx="542.6" cy="389.4" r="1.42"/>
<circle cx="545.1" cy="389.4" r="1.42"/>
<circle cx="547.7" cy="389.1" r="1.42"/>
<circle cx="550.2" cy="389.4" r="1.42"/>
<circle cx="552.8" cy="389.3" r="1.42"/>
<circle cx="555.3" cy="389.4" r="1.42"/>
<circle cx="557.9" cy="389.2" r="1.42"/>
<circle cx="523.5" cy="387.9" r="1.42"/>
<circle cx="526.0" cy="387.9" r="1.42"/>
<circle cx="528.6" cy="387.6" r="1.42"/>
<circle cx="531.1" cy="387.6" r="1.42"/>
<circle cx="533.7" cy="387.9" r="1.42"/>
<circle cx="536.2" cy="388.0" r="1.42"/>
<circle cx="538.8" cy="387.7" r="1.42"/>
<circle cx="541.3" cy="387.8" r="1.42"/>
<circle cx="543.9" cy="387.8" r="1.42"/>
<circle cx="546.4" cy="387.7" r="1.42"/>
<circle cx="549.0" cy="387.7" r="1.42"/>
<circle cx="551.5" cy="387.7" r="1.42"/>
<circle cx="554.1" cy="387.7" r="1.42"/>
<circle cx="556.6" cy="387.8" r="1.42"/>
<circle cx="523.7" cy="386.3" r="1.42"/>
<circle cx="526.2" cy="386.3" r="1.42"/>
<circle cx="528.8" cy="386.5" r="1.42"/>
<circle cx="531.3" cy="386.2" r="1.42"/>
<circle cx="533.9" cy="386.4" r="1.42"/>
<circle cx="536.4" cy="386.5" r="1.42"/>
<circle cx="539.0" cy="386.3" r="1.42"/>
<circle cx="541.5" cy="386.3" r="1.42"/>
<circle cx="544.1" cy="386.6" r="1.42"/>
<circle cx="546.6" cy="386.3" r="1.42"/>
<circle cx="549.2" cy="386.2" r="1.42"/>
<circle cx="551.7" cy="386.4" r="1.42"/>
<circle cx="554.3" cy="386.5" r="1.42"/>
<circle cx="556.8" cy="386.2" r="1.42"/>
<circle cx="529.5" cy="385.2" r="1.42"/>
<circle cx="532.0" cy="385.2" r="1.42"/>
<circle cx="534.6" cy="385.5" r="1.42"/>
<circle cx="537.1" cy="385.3" r="1.42"/>
<circle cx="539.7" cy="385.5" r="1.42"/>
<circle cx="542.2" cy="385.1" r="1.42"/>
<circle cx="544.8" cy="385.2" r="1.42"/>
<circle cx="547.3" cy="385.4" r="1.42"/>
<circle cx="549.9" cy="385.5" r="1.42"/>
</g>
<g fill="#d62728">
<circle cx="594.3" cy="361.4" r="1.42"/>
<circle cx="597.1" cy="362.9" r="1.42"/>
<circle cx="594.3" cy="371.9" r="1.42"/>
<circle cx="597.1" cy="373.5" r="1.42"/>
<circle cx="597.5" cy="378.1" r="1.42"/>
<circle cx="595.0" cy="379.4" r="1.42"/>
<circle cx="597.1" cy="381.5" r="1.42"/>
<circle cx="580.2" cy="389.1" r="1.42"/>
<circle cx="582.8" cy="389.0" r="1.42"/>
<circle cx="585.3" cy="388.9" r="1.42"/>
<circle cx="587.8" cy="389.1" r="1.42"/>
<circle cx="590.4" cy="388.9" r="1.42"/>
<circle cx="592.9" cy="389.3" r="1.42"/>
<circle cx="595.5" cy="389.3" r="1.42"/>
<circle cx="598.0" cy="388.9" r="1.42"/>
<circle cx="600.6" cy="389.0" r="1.42"/>
<circle cx="603.1" cy="389.3" r="1.42"/>
<circle cx="605.7" cy="389.2" r="1.42"/>
<circle cx="608.2" cy="389.3" r="1.42"/>
<circle cx="610.8" cy="389.0" r="1.42"/>
<circle cx="613.3" cy="388.9" r="1.42"/>
<circle cx="581.5" cy="387.6" r="1.42"/>
<circle cx="584.0" cy="387.8" r="1.42"/>
<circle cx="586.6" cy="387.6" r="1.42"/>
<circle cx="589.1" cy="387.6" r="1.42"/>
<circle cx="591.7" cy="387.7" r="1.42"/>
<circle cx="594.2" cy="387.7" r="1.42"/>
<circle cx="596.8" cy="387.7" r="1.42"/>
<circle cx="599.3" cy="387.9" r="1.42"/>
<circle cx="601.9" cy="387.5" r="1.42"/>
<circle cx="604.4" cy="387.5" r="1.42"/>
<circle cx="607.0" cy="387.9" r="1.42"/>
<circle cx="609.5" cy="387.9" r="1.42"/>
<circle cx="612.1" cy="387.9" r="1.42"/>
<circle cx="614.6" cy="387.7" r="1.42"/>
<circle cx="585.9" cy="386.6" r="1.42"/>
<circle cx="588.4" cy="386.6" r="1.42"/>
<circle cx="591.0" cy="386.3" r="1.42"/>
<circle cx="593.5" cy="386.5" r="1.42"/>
<circle cx="596.1" cy="386.6" r="1.42"/>
<circle cx="598.6" cy="386.5" r="1.42"/>
<circle cx="601.2" cy="386.4" r="1.42"/>
<circle cx="603.7" cy="386.3" r="1.42"/>
<circle cx="606.3" cy="386.3" r="1.42"/>
<circle cx="608.8" cy="386.3" r="1.42"/>
<circle cx="590.9" cy="384.8" r="1.42"/>
<circle cx="593.4" cy="385.0" r="1.42"/>
<circle cx="596.0" cy="384.9" r="1.42"/>
<circle cx="598.5" cy="385.2" r="1.42"/>
<circle cx="601.1" cy="384.8" r="1.42"/>
<circle cx="603.6" cy="385.2" r="1.42"/>
</g>
<g fill="#9467bd">
<circle cx="652.3" cy="378.1" r="1.42"/>
<circle cx="654.5" cy="379.9" r="1.42"/>
<circle cx="637.4" cy="389.4" r="1.42"/>
<circle cx="639.9" cy="389.5" r="1.42"/>
<circle cx="642.5" cy="389.5" r="1.42"/>
<circle cx="645.0" cy="389.5" r="1.42"/>
<circle cx="647.6" cy="389.3" r="1.42"/>
<circle cx="650.1" cy="389.1" r="1.42"/>
<circle cx="652.7" cy="389.4" r="1.42"/>
<circle cx="655.2" cy="389.1" r="1.42"/>
<circle cx="657.8" cy="389.2" r="1.42"/>
<circle cx="660.3" cy="389.4" r="1.42"/>
<circle cx="662.9" cy="389.3" r="1.42"/>
<circle cx="665.4" cy="389.3" r="1.42"/>
<circle cx="668.0" cy="389.5" r="1.42"/>
<circle cx="670.5" cy="389.4" r="1.42"/>
<circle cx="638.7" cy="387.9" r="1.42"/>
<circle cx="641.2" cy="387.9" r="1.42"/>
<circle cx="643.8" cy="388.2" r="1.42"/>
<circle cx="646.3" cy="388.0" r="1.42"/>
<circle cx="648.9" cy="388.1" r="1.42"/>
<circle cx="651.4" cy="387.9" r="1.42"/>
<circle cx="654.0" cy="387.8" r="1.42"/>
<circle cx="656.5" cy="388.0" r="1.42"/>
<circle cx="659.1" cy="388.2" r="1.42"/>
<circle cx="661.6" cy="387.8" r="1.42"/>
<circle cx="664.2" cy="388.1" r="1.42"/>
<circle cx="666.7" cy="388.2" r="1.42"/>
<circle cx="669.3" cy="388.2" r="1.42"/>
<circle cx="671.8" cy="388.2" r="1.42"/>
<circle cx="639.4" cy="386.6" r="1.42"/>
<circle cx="641.9" cy="386.9" r="1.42"/>
<circle cx="644.5" cy="387.0" r="1.42"/>
<circle cx="647.0" cy="386.6" r="1.42"/>
<circle cx="649.6" cy="386.7" r="1.42"/>
<circle cx="652.1" cy="386.7" r="1.42"/>
<circle cx="654.7" cy="386.8" r="1.42"/>
<circle cx="657.2" cy="386.8" r="1.42"/>
<circle cx="659.8" cy="386.8" r="1.42"/>
<circle cx="662.3" cy="386.9" r="1.42"/>
<circle cx="664.9" cy="386.6" r="1.42"/>
<circle cx="667.4" cy="386.6" r="1.42"/>
<circle cx="670.0" cy="386.6" r="1.42"/>
<circle cx="640.5" cy="385.6" r="1.42"/>
<circle cx="646.0" cy="385.4" r="1.42"/>
<circle cx="652.0" cy="385.2" r="1.42"/>
<circle cx="657.5" cy="385.5" r="1.42"/>
<circle cx="663.0" cy="385.3" r="1.42"/>
<circle cx="667.5" cy="385.6" r="1.42"/>
</g>
</svg>
</body></html>
